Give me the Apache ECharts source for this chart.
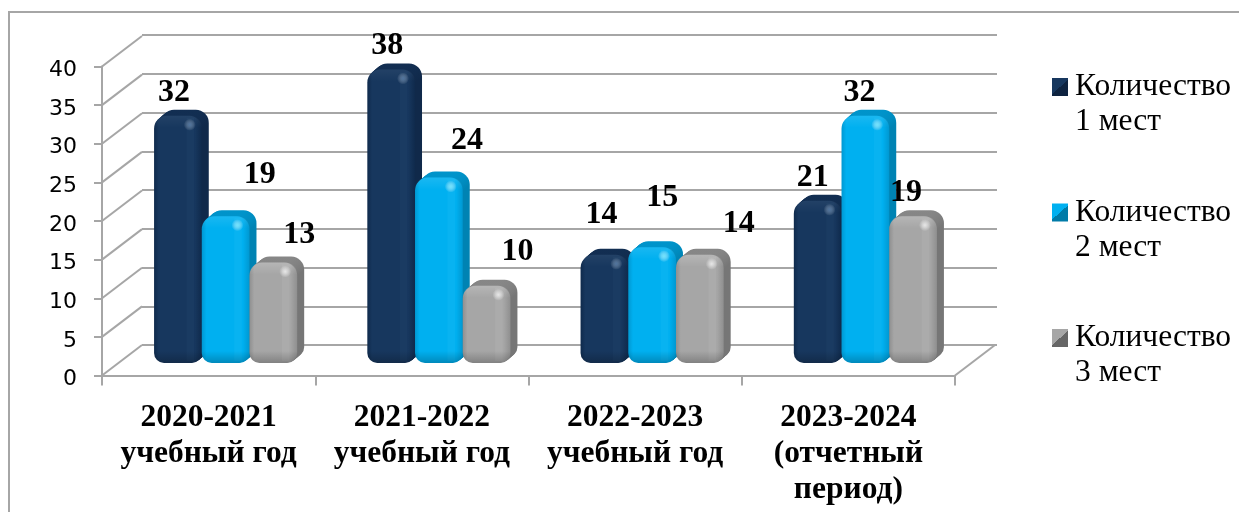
<!DOCTYPE html>
<html><head><meta charset="utf-8">
<style>html,body{margin:0;padding:0;background:#fff}#c{width:1239px;height:512px}</style>
<script src="https://cdn.jsdelivr.net/npm/echarts@6/dist/echarts.min.js"></script>
</head><body><div id="c"></div>
<script>
const categories = ['2020-2021\nучебный год','2021-2022\nучебный год','2022-2023\nучебный год','2023-2024\n(отчетный\nпериод)'];
const seriesNames = ['Количество\n1 мест','Количество\n2 мест','Количество\n3 мест'];
const places1 = [32,38,14,21];
const places2 = [19,24,15,32];
const places3 = [13,10,14,19];
const yTicks = [0,5,10,15,20,25,30,35,40];
const seriesValues = [places1,places2,places3];

// Styling and layout, separate from data
const front = {left:102, top:66.5, width:853, height:309};
const wall = {dx:40, dy:-30.5};
const barPlane = {dx:17, dy:-12.5};
const depth = {dx:7, dy:-6};
const barRatio = 0.2237;
const palettes = [
 {base:'#17375e', edge:'#0f2a4c', band:'rgba(90,130,180,0.05)', side:'#10294a', top:'#122e52', hi:'rgba(120,160,205,0.55)', sheen:'rgba(255,255,255,0.05)', legendA:'#17375e', legendB:'#0e2340'},
 {base:'#00b0f0', edge:'#0098d2', band:'rgba(120,225,255,0.07)', side:'#0083b3', top:'#0094cb', hi:'rgba(130,235,255,0.85)', sheen:'rgba(255,255,255,0.10)', legendA:'#00b0f0', legendB:'#007ba8'},
 {base:'#a6a6a6', edge:'#8f8f8f', band:'rgba(255,255,255,0.06)', side:'#767676', top:'#878787', hi:'rgba(240,240,240,0.85)', sheen:'rgba(255,255,255,0.18)', legendA:'#a6a6a6', legendB:'#666666'}
];
const gridColor = '#a6a6a6';
// Hand placement of the value labels relative to the top of each bar [dx, dy]
const labelNudge = [
 [[-4,-20],[34,-38],[26,-25]],
 [[-4,-21],[28,-34],[31,-31]],
 [[-3,-37],[10,-46],[39,-28]],
 [[-5,-20],[-6,-20],[-7,-20]]
];

function barSeries(si){
  const pal = palettes[si];
  return {
    type:'custom', name:seriesNames[si], xAxisIndex:2, yAxisIndex:2, z:3+si,
    data: seriesValues[si].map((v,i)=>[i,v]),
    encode:{x:0,y:1},
    renderItem(params, api){
      const c = api.coord([api.value(0), api.value(1)]);
      const base = api.coord([api.value(0), 0]);
      const w = api.size([1,0])[0]*barRatio;
      const x = c[0] + (si-1.5)*w, y = c[1], h = base[1]-c[1];
      const r = [13,13,10,10];
      const kids = [];
      const steps = 7;
      for(let k=steps;k>=1;k--){
        const f=k/steps;
        kids.push({type:'rect',shape:{x:x+depth.dx*f,y:y+depth.dy*f,width:w,height:h,r},
          style:{fill:{type:'linear',x:0,y:0,x2:0,y2:1,colorStops:[{offset:0,color:pal.top},{offset:Math.min(0.2,14/h),color:pal.side},{offset:1,color:pal.side}]}}});
      }
      kids.push({type:'rect',shape:{x,y,width:w,height:h,r},
        style:{fill:{type:'linear',x:0,y:0,x2:1,y2:0,colorStops:[
          {offset:0,color:pal.edge},{offset:0.1,color:pal.base},{offset:0.86,color:pal.base},{offset:1,color:pal.edge}]}}});
      kids.push({type:'rect',shape:{x:x+w*0.68,y:y+2,width:w*0.16,height:h-4},style:{fill:pal.band}});
      kids.push({type:'rect',shape:{x,y:y+h-12,width:w,height:12,r:[0,0,10,10]},
        style:{fill:{type:'linear',x:0,y:0,x2:0,y2:1,colorStops:[{offset:0,color:'rgba(0,0,0,0)'},{offset:1,color:'rgba(0,0,0,0.22)'}]}}});
      kids.push({type:'rect',shape:{x,y,width:w,height:12,r:[13,13,0,0]},
        style:{fill:{type:'linear',x:0,y:0,x2:0,y2:1,colorStops:[{offset:0,color:pal.sheen},{offset:1,color:'rgba(255,255,255,0)'}]}}});
      kids.push({type:'circle',shape:{cx:x+w-12,cy:y+9,r:6},
        style:{fill:{type:'radial',x:0.5,y:0.5,r:0.5,colorStops:[{offset:0,color:pal.hi},{offset:1,color:'rgba(255,255,255,0)'}]}}});
      return {type:'group',children:kids};
    }
  };
}
function labelSeries(si){
  return {
    type:'custom', xAxisIndex:2, yAxisIndex:2, z:10, silent:true,
    data: seriesValues[si].map((v,i)=>[i,v]), encode:{x:0,y:1},
    renderItem(params, api){
      const i = api.value(0), v = api.value(1);
      const c = api.coord([i,v]);
      const w = api.size([1,0])[0]*barRatio;
      const n = labelNudge[i][si];
      return {type:'text',style:{x:c[0]+(si-1)*w+n[0],y:c[1]+n[1]-3,text:String(v),
        font:'bold 32px "Liberation Serif"',fill:'#000',align:'center',verticalAlign:'middle'}};
    }
  };
}
const diagonals = {
  type:'custom', xAxisIndex:0, yAxisIndex:0, z:1, silent:true,
  data: yTicks.map(v=>[0,v]).concat([[3,0]]), encode:{x:0,y:1},
  renderItem(params, api){
    const idx = params.dataIndex;
    const p = api.coord([api.value(0), api.value(1)]);
    const cs = params.coordSys;
    const x = idx < yTicks.length ? cs.x : cs.x + cs.width;
    return {type:'line',shape:{x1:x,y1:p[1],x2:x+wall.dx,y2:p[1]+wall.dy},
      style:{stroke:gridColor,lineWidth:2}};
  }
};
const lineSty = {color:gridColor,width:2};
const hiddenAxis = {show:false,type:'category',data:categories};
const option = {
  animation:false,
  backgroundColor:'#fff',
  graphic:[{type:'rect',shape:{x:9,y:12,width:1260,height:540},style:{fill:'none',stroke:'#a6a6a6',lineWidth:2},z:-10,silent:true}],
  grid:[
    {left:front.left,top:front.top,width:front.width,height:front.height},
    {left:front.left+wall.dx,top:35,width:front.width+2,height:310},
    {left:front.left+barPlane.dx,top:front.top+barPlane.dy,width:front.width,height:front.height}
  ],
  xAxis:[
    {gridIndex:0,type:'category',data:categories,
     axisLine:{lineStyle:lineSty},axisTick:{show:true,length:10,alignWithLabel:false,lineStyle:lineSty},
     axisLabel:{interval:0,margin:24,fontFamily:'Liberation Serif',fontWeight:'bold',fontSize:31.5,color:'#000',lineHeight:36,verticalAlign:'top'}},
    Object.assign({gridIndex:1},hiddenAxis),
    Object.assign({gridIndex:2},hiddenAxis)
  ],
  yAxis:[
    {gridIndex:0,type:'value',min:0,max:40,interval:5,
     axisLine:{show:true,lineStyle:lineSty},axisTick:{show:true,length:8,lineStyle:lineSty},splitLine:{show:false},
     axisLabel:{margin:25,fontFamily:'DejaVu Sans',fontSize:22,color:'#000',verticalAlign:'top',lineHeight:8}},
    {gridIndex:1,type:'value',min:0,max:40,interval:5,axisLine:{show:false},axisTick:{show:false},axisLabel:{show:false},
     splitLine:{show:true,lineStyle:lineSty}},
    {gridIndex:2,type:'value',min:0,max:40,interval:5,show:false}
  ],
  legend:{
    left:1047,top:27,orient:'vertical',icon:'rect',itemWidth:16,itemHeight:18,itemGap:15.5,
    selectedMode:false,
    data:seriesNames.map((n,i)=>({name:n,itemStyle:{color:{type:'linear',x:0,y:0,x2:1,y2:1,colorStops:[
      {offset:0,color:palettes[i].legendA},{offset:0.5,color:palettes[i].legendA},{offset:0.5,color:palettes[i].legendB},{offset:1,color:palettes[i].legendB}]}}})),
    formatter:n=>'\n'+n,
    textStyle:{fontFamily:'Liberation Serif',fontSize:31.5,lineHeight:35,color:'#000',padding:[5,0,0,2]}
  },
  series:[diagonals,barSeries(0),barSeries(1),barSeries(2),labelSeries(0),labelSeries(1),labelSeries(2)]
};
const chart = echarts.init(document.getElementById('c'),null,{renderer:'canvas'});
chart.setOption(option);
</script></body></html>
